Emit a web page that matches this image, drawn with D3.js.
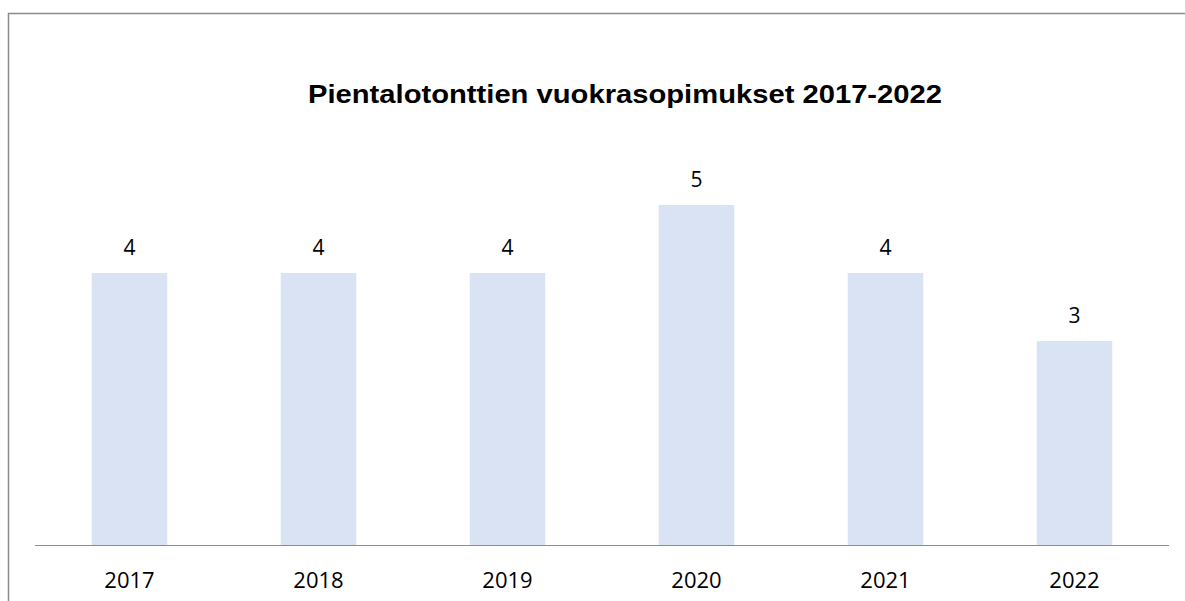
<!DOCTYPE html>
<html>
<head>
<meta charset="utf-8">
<script src="https://cdn.jsdelivr.net/npm/d3@7"></script>
<style>
  body { margin: 0; background: #fff; }
  svg { display: block; }
</style>
</head>
<body>
<svg id="chart" width="1185" height="601"></svg>
<script>
const years = ["2017", "2018", "2019", "2020", "2021", "2022"];
const contracts = [4, 4, 4, 5, 4, 3];
const chartTitle = "Pientalotonttien vuokrasopimukset 2017-2022";

const svg = d3.select("#chart");

// outer frame, runs off the right and bottom edge like the screenshot
svg.append("rect")
    .attr("x", 8.5).attr("y", 13.5)
    .attr("width", 1200).attr("height", 620)
    .attr("fill", "none")
    .attr("stroke", "#8c8c8c")
    .attr("stroke-width", 1.5);

const left = 35, right = 1169, baseline = 545;

const x = d3.scaleBand()
    .domain(years)
    .range([left, right])
    .paddingInner(0.6)
    .paddingOuter(0.3);

const y = d3.scaleLinear()
    .domain([0, 5])
    .range([baseline, 205]);

// title is a bit wider in the original, stretch it to fit
svg.append("text")
    .attr("x", 308).attr("y", 103)
    .attr("font-family", "Liberation Sans, Arial, sans-serif")
    .attr("font-weight", "bold")
    .attr("font-size", 25)
    .attr("textLength", 634)
    .attr("lengthAdjust", "spacingAndGlyphs")
    .text(chartTitle);

const data = years.map((yr, i) => ({ year: yr, value: contracts[i] }));

svg.append("g")
    .selectAll("rect")
    .data(data)
    .join("rect")
    .attr("x", d => x(d.year))
    .attr("y", d => y(d.value))
    .attr("width", x.bandwidth())
    .attr("height", d => baseline - y(d.value))
    .attr("fill", "#dae3f3");

svg.append("g")
    .selectAll("text")
    .data(data)
    .join("text")
    .attr("x", d => x(d.year) + x.bandwidth() / 2)
    .attr("y", d => y(d.value) - 18)
    .attr("text-anchor", "middle")
    .attr("font-family", "Open Sans, sans-serif")
    .attr("font-size", 21)
    .attr("fill", "#000")
    .text(d => d.value);

// x axis
const xAxis = svg.append("g")
    .attr("transform", `translate(0,${baseline})`)
    .call(d3.axisBottom(x).tickSize(0).tickPadding(0));
xAxis.select(".domain")
    .attr("d", `M${left},0.5H${right}`)
    .attr("stroke", "#8c8c8c")
    .attr("stroke-width", 1.2);
xAxis.selectAll("text")
    .attr("dy", null)
    .attr("y", 43)
    .attr("font-family", "Open Sans, sans-serif")
    .attr("font-size", 22)
    .attr("fill", "#000");
</script>
</body>
</html>
